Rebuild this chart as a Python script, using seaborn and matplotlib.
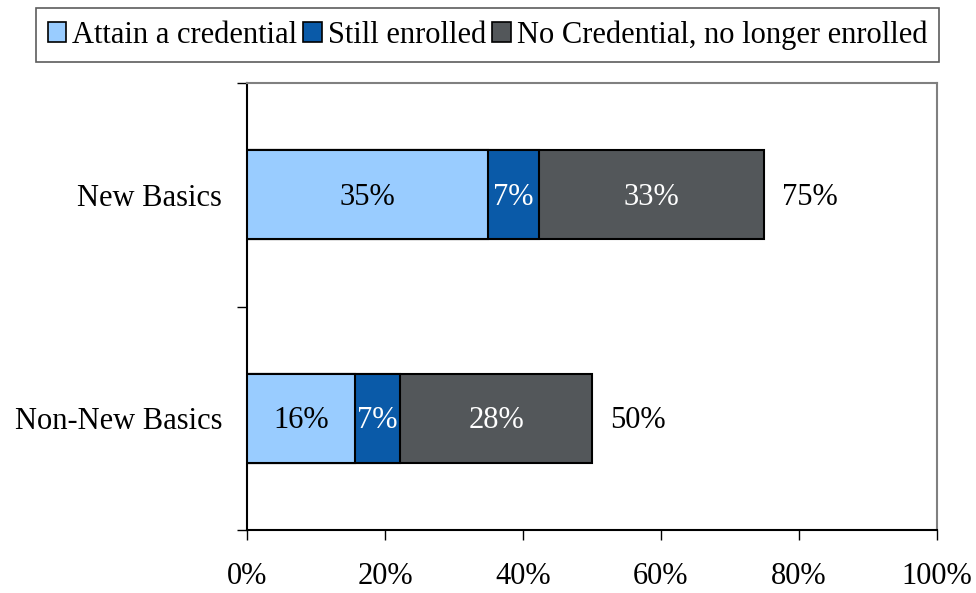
import matplotlib
matplotlib.use("Agg")
import matplotlib.pyplot as plt
import matplotlib.patches as mpatches
import numpy as np
import pandas as pd
import seaborn as sns

# Data
groups = ["New Basics", "Non-New Basics"]
series = ["Attain a credential", "Still enrolled", "No Credential, no longer enrolled"]
attain = [34.9, 15.6]
still_enrolled = [7.4, 6.6]
no_credential = [32.6, 27.8]
colors = ["#99CCFF", "#0A5AA8", "#53575A"]
text_colors = ["black", "white", "white"]
x_ticks = [0, 20, 40, 60, 80, 100]

sns.set_theme(style="white")
plt.rcParams["font.family"] = ["Liberation Serif", "DejaVu Serif"]
plt.rcParams["text.color"] = "black"
plt.rcParams["xtick.color"] = "black"
plt.rcParams["ytick.color"] = "black"
FS = 22

values = np.array([attain, still_enrolled, no_credential])
cum = values.cumsum(axis=0)
totals = cum[-1]

fig = plt.figure(figsize=(9.76, 5.93), dpi=100)
ax = fig.add_axes([0.2531, 0.1062, 0.7069, 0.7538])

# Draw stacked segments as cumulative bars, widest first
for i in range(len(series) - 1, -1, -1):
    df = pd.DataFrame({"group": groups, "value": cum[i]})
    sns.barplot(data=df, x="value", y="group", orient="h", color=colors[i],
                saturation=1, width=0.4, edgecolor="black", linewidth=1.5,
                ax=ax, zorder=2 + (len(series) - i))

# Segment labels
for i in range(len(series)):
    starts = cum[i] - values[i]
    for j, g in enumerate(groups):
        ax.text(starts[j] + values[i][j] / 2, j + 0.01, f"{values[i][j]:.0f}%",
                ha="center", va="center", color=text_colors[i], fontsize=FS,
                zorder=10)

# Totals to the right of each bar
for j, g in enumerate(groups):
    ax.annotate(f"{totals[j]:.0f}%", xy=(totals[j], j + 0.01), xytext=(13, 0),
                textcoords="offset points", ha="left", va="center",
                fontsize=FS, color="black")

ax.set_xlim(0, 100)
ax.set_ylim(1.5, -0.5)
ax.set_xlabel("")
ax.set_ylabel("")

ax.set_xticks(x_ticks)
ax.set_xticklabels([f"{t}%" for t in x_ticks], fontsize=FS, color="black")
ax.tick_params(axis="x", direction="out", length=7, width=1, color="black",
               pad=16, bottom=True)

ax.set_yticks([0, 1])
ax.set_yticklabels(groups, fontsize=FS, color="black")
ax.tick_params(axis="y", which="major", length=0, pad=18, left=True)
ax.set_yticks([-0.5, 0.5, 1.5], minor=True)
ax.tick_params(axis="y", which="minor", direction="out", length=7, width=1,
               color="black", left=True)

for side in ["left", "bottom"]:
    ax.spines[side].set_color("black")
    ax.spines[side].set_linewidth(1.5)
for side in ["top", "right"]:
    ax.spines[side].set_color("#808080")
    ax.spines[side].set_linewidth(1.5)
ax.grid(False)

handles = [mpatches.Patch(facecolor=c, edgecolor="black", linewidth=1.2)
           for c in colors]
leg = fig.legend(handles, series, loc="upper center",
                 bbox_to_anchor=(0.4995, 1 - 8 / 593), ncol=3, fontsize=FS,
                 frameon=True, fancybox=False, edgecolor="#333333",
                 handlelength=0.6, handleheight=0.6, handletextpad=0.2,
                 columnspacing=0.2, borderpad=0.4, borderaxespad=0)
leg.get_frame().set_linewidth(1.2)
for t in leg.get_texts():
    t.set_color("black")

fig.savefig("out.png", dpi=100, facecolor="white")
